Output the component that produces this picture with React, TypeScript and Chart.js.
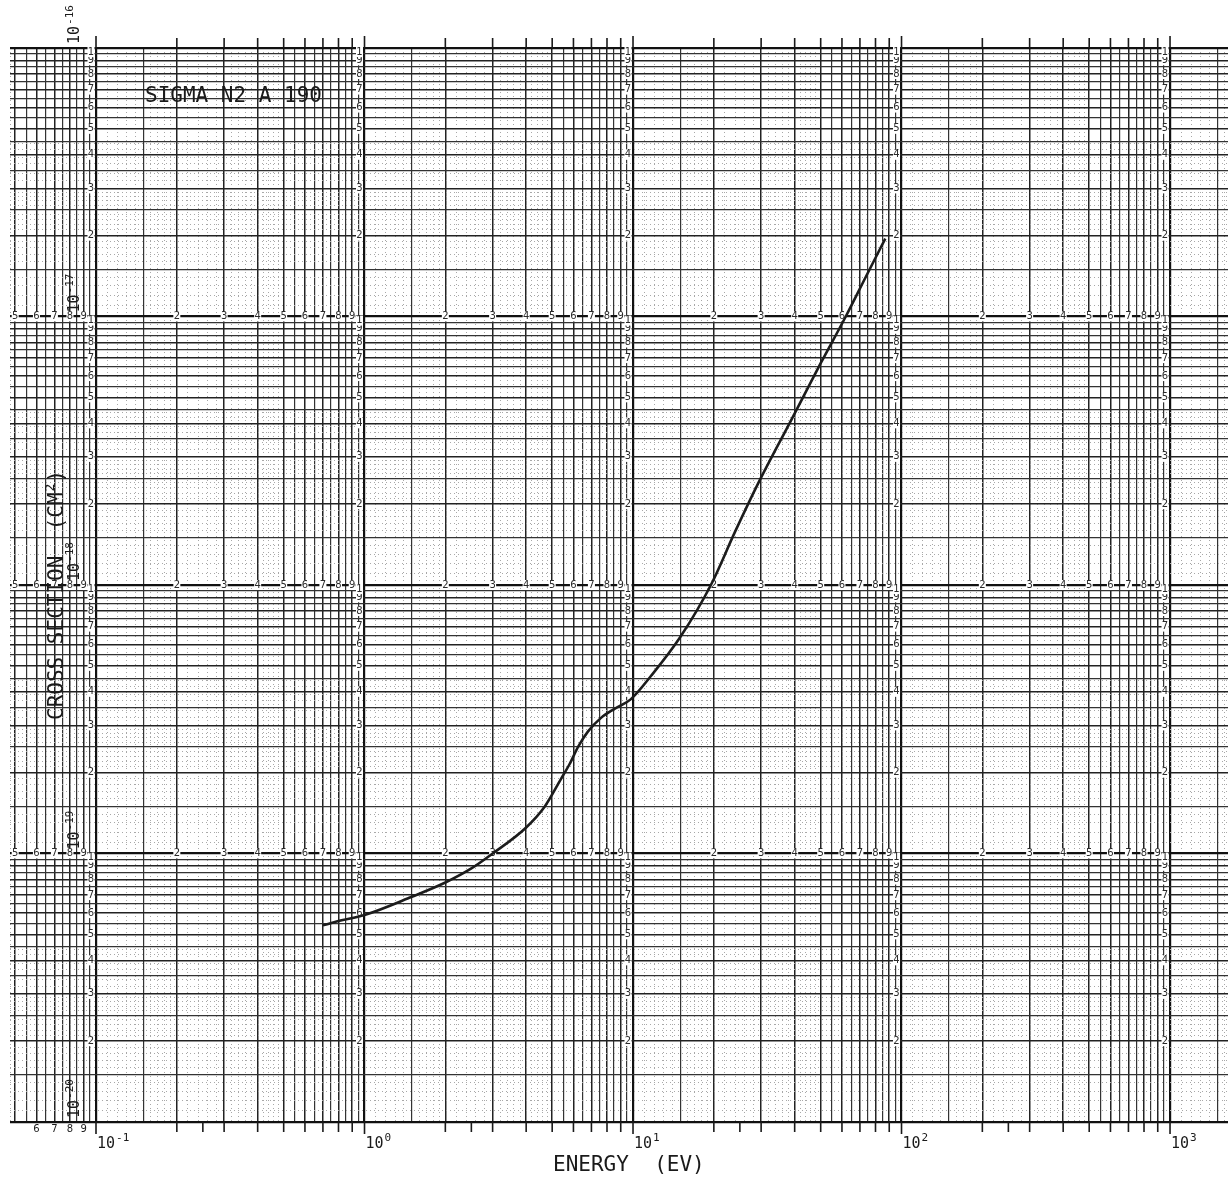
import React, { useEffect, useRef } from 'react';
import { Chart, registerables } from 'chart.js';

Chart.register(...registerables);

// ---------------- data ----------------
const energyEV = [0.7, 0.8, 1.0, 1.5, 2.0, 2.5, 3.0, 4.0, 4.7, 5.4, 5.8, 6.25, 6.8, 7.6, 8.5, 9.8, 11.7, 15, 19.5, 24, 29, 39, 50, 62, 73.5, 87];
const crossSectionCm2 = [5.4e-20, 5.6e-20, 5.9e-20, 6.9e-20, 7.8e-20, 8.8e-20, 1.0e-19, 1.25e-19, 1.5e-19, 1.9e-19, 2.15e-19, 2.5e-19, 2.85e-19, 3.2e-19, 3.45e-19, 3.75e-19, 4.6e-19, 6.4e-19, 1.0e-18, 1.58e-18, 2.35e-18, 4.15e-18, 6.7e-18, 1.0e-17, 1.4e-17, 1.95e-17];

// ---------------- axes / graph paper ----------------
const xMin = 0.04783;
const xMax = 1644;
const yMin = 1e-20;
const yMax = 1e-16;
const xDecadeExponents = [-1, 0, 1, 2, 3];
const yDecadeExponents = [-20, -19, -18, -17, -16];
const xTickLabels = ['-1', '0', '1', '2', '3'];
const yTickLabels = ['-20', '-19', '-18', '-17', '-16'];
const xPaperSolid = [1, 1.5, 2, 3, 4, 5, 5.5, 6, 6.5, 7, 7.5, 8, 8.5, 9, 9.5];
const yPaperSolid = [1, 1.5, 2, 2.5, 3, 3.5, 4, 4.5, 5, 5.5, 6, 6.5, 7, 7.5, 8, 8.5, 9, 9.5];
const xPaperFine = [1.1, 1.2, 1.3, 1.4, 1.6, 1.7, 1.8, 1.9, 2.2, 2.4, 2.6, 2.8, 3.2, 3.4, 3.6, 3.8, 4.2, 4.4, 4.6, 4.8];
const yPaperFine = [1.1, 1.2, 1.3, 1.4, 1.6, 1.7, 1.8, 1.9, 2.1, 2.2, 2.3, 2.4, 2.6, 2.7, 2.8, 2.9, 3.2, 3.4, 3.7, 3.9, 4.2, 4.4];
const paperNumbers = [2, 3, 4, 5, 6, 7, 8, 9];
const bottomTickMantissas = [2, 2.5, 3, 4, 5, 6, 7, 8, 9];
const topTickMantissas = [2, 3, 4, 5, 6, 7, 8, 9];
const leftMarginNumbers = [6, 7, 8, 9];
const chartTitle = 'SIGMA N2 A 190';
const xAxisTitle = 'ENERGY  (EV)';
const yAxisTitle = 'CROSS SECTION  (CM';

type PaperTick = { value: number; kind: string };

function paperTicks(min: number, max: number, solid: number[], fine: number[], kLo: number, kHi: number): PaperTick[] {
  const out: PaperTick[] = [];
  for (let k = kLo; k <= kHi; k++) {
    const p = Math.pow(10, k);
    for (const m of solid) {
      const v = m * p;
      if (v >= min * 0.9999 && v <= max * 1.0001) {
        out.push({ value: v, kind: m === 1 ? 'decade' : Number.isInteger(m) ? 'int' : 'half' });
      }
    }
    for (const m of fine) {
      const v = m * p;
      if (v >= min * 0.9999 && v <= max * 1.0001) out.push({ value: v, kind: 'fine' });
    }
  }
  return out.sort((a, b) => a.value - b.value);
}

const xTicks = paperTicks(xMin, xMax, xPaperSolid, xPaperFine, -2, 3);
const yTicks = paperTicks(yMin, yMax, yPaperSolid, yPaperFine, -20, -16);

const gridColor = (kind?: string) =>
  kind === 'decade' ? '#111' : kind === 'int' ? '#222' : kind === 'half' ? '#333' : '#a8a8a8';
const gridWidth = (kind?: string) =>
  kind === 'decade' ? 2.2 : kind === 'int' ? 1.5 : kind === 'half' ? 1.2 : 1;

const MONO = '"DejaVu Sans Mono", monospace';

function drawSup(ctx: CanvasRenderingContext2D, base: string, sup: string, x: number, y: number, bSize: number, sSize: number, rise: number) {
  ctx.font = `${bSize}px ${MONO}`;
  ctx.fillText(base, x, y);
  const w = ctx.measureText(base).width;
  ctx.font = `${sSize}px ${MONO}`;
  ctx.fillText(sup, x + w + 1, y - rise);
  return w + 1 + ctx.measureText(sup).width;
}

const paperPlugin = {
  id: 'paperPlugin',
  beforeDatasetsDraw(chart: any) {
    const ctx: CanvasRenderingContext2D = chart.ctx;
    const xs = chart.scales.x;
    const ys = chart.scales.y;
    ctx.save();
    ctx.font = '10px "DejaVu Sans", sans-serif';
    ctx.textAlign = 'center';
    ctx.textBaseline = 'middle';
    const knock = (px: number, py: number) => {
      ctx.fillStyle = '#fff';
      ctx.fillRect(px - 3.5, py - 5, 7, 10);
      ctx.fillStyle = '#2a2a2a';
    };
    // numbers along the horizontal decade rows
    for (const row of [-19, -18, -17]) {
      const py = ys.getPixelForValue(Math.pow(10, row));
      for (let k = -2; k <= 2; k++) {
        for (const m of paperNumbers) {
          const v = m * Math.pow(10, k);
          if (v < xMin) continue;
          const px = xs.getPixelForValue(v);
          knock(px, py);
          ctx.fillText(String(m), px, py);
        }
      }
    }
    // numbers along the vertical decade columns
    for (const col of xDecadeExponents) {
      const px = xs.getPixelForValue(Math.pow(10, col)) - 5;
      for (let k = -20; k <= -17; k++) {
        for (const m of paperNumbers) {
          const py = ys.getPixelForValue(m * Math.pow(10, k));
          knock(px, py);
          ctx.fillText(String(m), px, py);
        }
      }
      for (const row of yDecadeExponents.slice(1)) {
        const py = ys.getPixelForValue(Math.pow(10, row)) + 4;
        knock(px, py);
        ctx.fillText('1', px, py);
      }
    }
    ctx.restore();
  },
  afterDraw(chart: any) {
    const ctx: CanvasRenderingContext2D = chart.ctx;
    const xs = chart.scales.x;
    const ys = chart.scales.y;
    const area = chart.chartArea;
    ctx.save();
    ctx.strokeStyle = '#1a1a1a';
    ctx.fillStyle = '#1a1a1a';
    // bottom and top tick marks
    ctx.lineWidth = 1.6;
    for (let i = 0; i < xDecadeExponents.length; i++) {
      const k = xDecadeExponents[i];
      const pd = xs.getPixelForValue(Math.pow(10, k));
      ctx.beginPath();
      ctx.moveTo(pd, area.bottom);
      ctx.lineTo(pd, area.bottom + 12);
      ctx.moveTo(pd, area.top);
      ctx.lineTo(pd, area.top - 12);
      ctx.stroke();
      if (k >= 3) continue;
      for (const m of bottomTickMantissas) {
        const px = xs.getPixelForValue(m * Math.pow(10, k));
        ctx.beginPath();
        ctx.moveTo(px, area.bottom);
        ctx.lineTo(px, area.bottom + 10);
        ctx.stroke();
      }
      for (const m of topTickMantissas) {
        const px = xs.getPixelForValue(m * Math.pow(10, k));
        ctx.beginPath();
        ctx.moveTo(px, area.top);
        ctx.lineTo(px, area.top - 10);
        ctx.stroke();
      }
    }
    // paper numbers below the left margin
    ctx.font = '10px "DejaVu Sans", sans-serif';
    ctx.textAlign = 'center';
    ctx.textBaseline = 'middle';
    for (const m of leftMarginNumbers) {
      ctx.fillText(String(m), xs.getPixelForValue(m * 0.01), area.bottom + 7);
    }
    // x decade labels
    ctx.textAlign = 'left';
    ctx.textBaseline = 'alphabetic';
    for (let i = 0; i < xDecadeExponents.length; i++) {
      const px = xs.getPixelForValue(Math.pow(10, xDecadeExponents[i]));
      drawSup(ctx, '10', xTickLabels[i], px + 1, area.bottom + 26, 15, 11, 7);
    }
    // y decade labels (rotated)
    for (let i = 0; i < yDecadeExponents.length; i++) {
      const py = ys.getPixelForValue(Math.pow(10, yDecadeExponents[i]));
      ctx.save();
      ctx.translate(79, py - 4);
      ctx.rotate(-Math.PI / 2);
      drawSup(ctx, '10', yTickLabels[i], 0, 0, 15, 11, 6);
      ctx.restore();
    }
    // chart title
    ctx.font = `21px ${MONO}`;
    ctx.fillText(chartTitle, 145, 102);
    // x axis title
    ctx.fillText(xAxisTitle, 553, 1171);
    // y axis title (rotated)
    ctx.save();
    ctx.translate(63, 720);
    ctx.rotate(-Math.PI / 2);
    ctx.font = `21px ${MONO}`;
    ctx.fillText(yAxisTitle, 0, 0);
    let w = ctx.measureText(yAxisTitle).width;
    ctx.font = `13px ${MONO}`;
    ctx.fillText('2', w + 1, -9);
    w += ctx.measureText('2').width + 2;
    ctx.font = `21px ${MONO}`;
    ctx.fillText(')', w, 0);
    ctx.restore();
    ctx.restore();
  },
};

export default function App() {
  const ref = useRef<HTMLCanvasElement>(null);
  useEffect(() => {
    const canvas = ref.current;
    if (!canvas) return;
    const scaleCommon = (ticks: PaperTick[]) => ({
      type: 'logarithmic' as const,
      afterBuildTicks: (s: any) => {
        s.ticks = ticks.map((t) => ({ ...t }));
      },
      ticks: { display: false },
      grid: {
        drawTicks: false,
        color: (c: any) => gridColor(c.tick?.kind),
        lineWidth: (c: any) => gridWidth(c.tick?.kind),
      },
      border: {
        display: false,
        dash: (c: any) => (c.tick?.kind === 'fine' ? [1, 3] : []),
      },
    });
    const chart = new Chart(canvas, {
      type: 'line',
      data: {
        datasets: [
          {
            data: energyEV.map((e, i) => ({ x: e, y: crossSectionCm2[i] })),
            borderColor: '#1c1c1c',
            borderWidth: 2.6,
            pointRadius: 0,
            cubicInterpolationMode: 'monotone',
            fill: false,
          },
        ],
      },
      options: {
        animation: false,
        responsive: false,
        devicePixelRatio: 1,
        events: [],
        layout: { padding: { left: 10, right: 0, top: 48, bottom: 55 } },
        plugins: { legend: { display: false }, tooltip: { enabled: false }, title: { display: false } },
        scales: {
          x: { ...scaleCommon(xTicks), min: xMin, max: xMax },
          y: { ...scaleCommon(yTicks), min: yMin, max: yMax },
        },
      } as any,
      plugins: [paperPlugin],
    });
    return () => chart.destroy();
  }, []);
  return (
    <div style={{ position: 'fixed', left: 0, top: 0, width: 1228, height: 1177, background: '#fff' }}>
      <canvas ref={ref} width={1228} height={1177} style={{ display: 'block' }} />
    </div>
  );
}
